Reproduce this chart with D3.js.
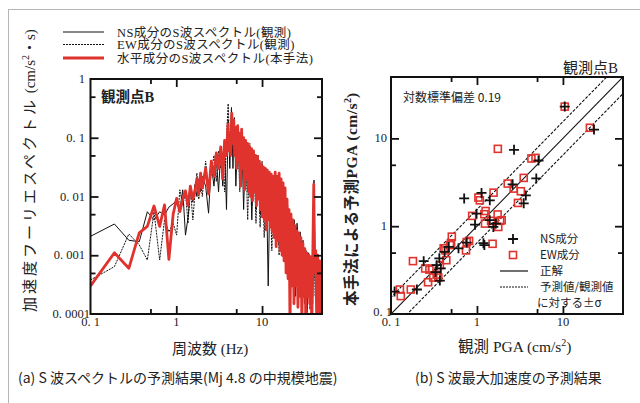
<!DOCTYPE html>
<html>
<head>
<meta charset="utf-8">
<script src="https://cdn.jsdelivr.net/npm/d3@7"></script>
<style>
  body { margin: 0; background: #fff; }
  svg text { font-family: "Liberation Serif", "Noto Sans CJK JP", serif; fill: #222; }
  svg text.sans { font-family: "Noto Sans CJK JP", sans-serif; }
</style>
</head>
<body>
<svg id="chart" width="640" height="403"></svg>
<script>
// --- spectrum data (a) : frequency in Hz, acceleration Fourier spectrum in cm/s^2*s
const freq = [
  0.1, 0.19, 0.28, 0.37, 0.46, 0.55, 0.64, 0.73, 0.82, 0.92,
  1.01, 1.1, 1.19, 1.28, 1.37, 1.46, 1.56, 1.65, 1.74, 1.83,
  1.92, 2.01, 2.2, 2.38, 2.56, 2.75, 2.93, 3.11, 3.3, 3.48,
  3.66, 3.85, 4.03, 4.21, 4.4, 4.58, 4.76, 4.95, 5.2, 5.5,
  5.8, 6.1, 6.4, 6.8, 7.2, 7.6, 8.0, 8.5, 9.0, 9.5,
  10, 10.6, 11.2, 11.8, 12.4, 13, 13.7, 14.4, 15.1, 15.8,
  16.6, 17.4, 18.2, 19, 19.9, 20.8, 21.7, 22.6, 23.6, 24.6,
  25.6, 26.7, 27.8, 28.9, 30, 31.2, 32.4, 33.6, 34.9, 36.2,
  37.5, 38.9, 40.3, 41.7, 43.2, 44.7, 46.2, 47.8, 49.4
];
const nsSpec = [
  0.0021, 0.0034, 0.0018, 0.0017, 0.0055, 0.004, 0.0055, 0.0048, 0.0066, 0.0075,
  0.0087, 0.006, 0.013, 0.0022, 0.0043, 0.012, 0.008, 0.016, 0.01, 0.02,
  0.012, 0.022, 0.015, 0.0052, 0.035, 0.015, 0.045, 0.012, 0.06, 0.015,
  0.07, 0.006, 0.2, 0.03, 0.3, 0.03, 0.22, 0.015, 0.12, 0.02,
  0.1, 0.006, 0.07, 0.012, 0.06, 0.004, 0.05, 0.006, 0.04, 0.005,
  0.035, 0.004, 0.025, 0.0003, 0.02, 0.003, 0.022, 0.002, 0.02, 0.0015,
  0.016, 0.001, 0.012, 0.0006, 0.006, 0.0004, 0.005, 0.0005, 0.004, 0.0002,
  0.0035, 0.0003, 0.0025, 0.0002, 0.0018, 0.00015, 0.0012, 0.00012, 0.0011, 0.0003,
  0.0008, 0.00015, 0.019, 0.0004, 0.0009, 0.0001, 0.0006, 0.00008, 0.0004
];
const ewSpec = [
  0.00038, 0.00064, 0.0023, 0.0015, 0.00083, 0.0055, 0.00083, 0.004, 0.0025, 0.0035,
  0.0022, 0.013, 0.007, 0.012, 0.0035, 0.014, 0.004, 0.011, 0.025, 0.009,
  0.02, 0.01, 0.04, 0.012, 0.025, 0.05, 0.018, 0.06, 0.03, 0.05,
  0.012, 0.1, 0.38, 0.05, 0.33, 0.06, 0.15, 0.03, 0.14, 0.012,
  0.11, 0.02, 0.09, 0.004, 0.08, 0.007, 0.06, 0.0035, 0.05, 0.003,
  0.04, 0.002, 0.03, 0.004, 0.025, 0.0012, 0.02, 0.0015, 0.018, 0.001,
  0.014, 0.0012, 0.01, 0.0005, 0.007, 0.0004, 0.005, 0.0003, 0.004, 0.0003,
  0.003, 0.0002, 0.0022, 0.00015, 0.0016, 0.0002, 0.0012, 0.0001, 0.0009, 0.00012,
  0.0007, 0.0002, 0.0011, 0.0002, 0.0008, 0.0001, 0.0005, 0.00009, 0.0004
];
// predicted spectrum is plotted on a finer grid above 4 Hz
const predFreq = [
  0.1, 0.19, 0.28, 0.37, 0.46, 0.55, 0.64, 0.73, 0.82, 0.92,
  1.01, 1.1, 1.19, 1.28, 1.37, 1.46, 1.56, 1.65, 1.74, 1.83,
  1.92, 2.01, 2.2, 2.38, 2.56, 2.75, 2.93, 3.11, 3.3, 3.48,
  3.66, 3.85,
  4.0, 4.1, 4.2, 4.32, 4.44, 4.56, 4.68, 4.8, 4.93, 5.06,
  5.2, 5.34, 5.48, 5.63, 5.78, 5.94, 6.1, 6.26, 6.43, 6.6,
  6.78, 6.96, 7.15, 7.34, 7.54, 7.74, 7.95, 8.16, 8.38, 8.6,
  8.83, 9.07, 9.31, 9.56, 9.82, 10.08, 10.35, 10.63, 10.92, 11.21,
  11.51, 11.82, 12.14, 12.47, 12.8, 13.15, 13.5, 13.86, 14.23, 14.61,
  15.0, 15.4, 15.82, 16.24, 16.68, 17.13, 17.59, 18.06, 18.55, 19.05,
  19.56, 20.09, 20.63, 21.18, 21.75, 22.34, 22.94, 23.56, 24.19, 24.84,
  25.51, 26.2, 26.9, 27.63, 28.37, 29.13, 29.92, 30.72, 31.55, 32.4,
  33.27, 34.17, 35.09, 36.03, 37.0, 38.0, 39.02, 40.07, 41.15, 42.26,
  43.4, 44.57, 45.77, 47.0, 48.27, 49.5
];
const predSpec = [
  0.0003, 0.0011, 0.0006, 0.0024, 0.0031, 0.0069, 0.0031, 0.0072, 0.00085, 0.005,
  0.0093, 0.0055, 0.009, 0.0125, 0.007, 0.015, 0.009, 0.012, 0.02, 0.011,
  0.025, 0.014, 0.03, 0.011, 0.04, 0.022, 0.055, 0.03, 0.07, 0.02,
  0.09, 0.05,
  0.17, 0.06, 0.12, 0.05, 0.26, 0.08, 0.2, 0.05, 0.15, 0.03,
  0.16, 0.04, 0.12, 0.015, 0.14, 0.03, 0.1, 0.013, 0.09, 0.02,
  0.08, 0.012, 0.07, 0.01, 0.065, 0.0085, 0.06, 0.012, 0.05, 0.007,
  0.048, 0.009, 0.04, 0.006, 0.035, 0.0045, 0.032, 0.004, 0.03, 0.0027,
  0.028, 0.004, 0.026, 0.003, 0.024, 0.0025, 0.022, 0.002, 0.026, 0.0014,
  0.022, 0.0018, 0.025, 0.0012, 0.02, 0.001, 0.017, 0.0008, 0.014, 0.0005,
  0.009, 0.0004, 0.006, 0.00006, 0.005, 0.0003, 0.004, 0.00015, 0.0032, 0.0003,
  0.0026, 0.00013, 0.0024, 0.0002, 0.002, 0.00007, 0.0016, 0.0002, 0.0013, 0.00006,
  0.0011, 0.0002, 0.001, 0.00015, 0.00095, 0.00006, 0.0009, 0.016, 0.0005, 0.0012,
  0.00007, 0.001, 0.00006, 0.0008, 0.00005, 0.0005
];

// --- PGA data (b) : observed vs predicted, cm/s^2
const ewObs  = [10.5, 20.6, 1.75, 4.3, 4.8, 3.5, 2.28, 2.67, 3.24, 3.0, 1.04, 1.08, 1.56, 0.88, 1.26,
                1.22, 1.74, 1.24, 1.46, 1.86, 1.94, 1.77, 1.52, 0.76, 0.81, 0.745, 0.51, 0.485, 0.50, 0.41,
                0.43, 0.44, 0.37, 0.28, 0.30, 0.25, 0.18, 0.34, 0.355, 0.31, 0.27, 0.17, 0.127, 0.13];
const ewPred = [23, 13.2, 7.6, 5.9, 6.0, 3.55, 3.06, 2.68, 2.5, 1.84, 2.12, 1.97, 2.41, 1.31, 1.49,
                1.37, 1.36, 1.07, 1.15, 1.15, 1.17, 0.98, 0.63, 0.66, 0.68, 0.53, 0.76, 0.61, 0.64, 0.56,
                0.53, 0.41, 0.36, 0.32, 0.33, 0.33, 0.40, 0.28, 0.26, 0.26, 0.23, 0.19, 0.19, 0.16];
const nsObs  = [10.5, 23, 2.7, 5.2, 4.9, 2.6, 3.7, 3.5, 0.71, 1.13, 1.41, 0.99, 0.95, 1.41, 1.66,
                1.55, 1.22, 1.19, 0.76, 0.61, 0.47, 0.42, 0.365, 0.34, 0.24, 0.37, 0.33, 0.20, 0.11, 0.38];
const nsPred = [23, 12.6, 7.4, 5.6, 3.5, 3.0, 2.24, 1.82, 2.07, 2.39, 1.97, 1.39, 1.04, 1.17, 1.07,
                0.98, 0.61, 0.64, 0.65, 0.56, 0.58, 0.51, 0.43, 0.36, 0.40, 0.24, 0.30, 0.19, 0.18, 0.33];
const logSigma = 0.19;

// tick labels
const specYTicks = [1, 0.1, 0.01, 0.001, 0.0001];
const specYLabels = ["1", "0. 1", "0. 01", "0. 001", "0. 0001"];
const specXTicks = [0.1, 1, 10];
const pgaTicks = [0.1, 1, 10];
const tickLabels = ["0. 1", "1", "10"];

const svg = d3.select("#chart");

// outer grey frame (runs off the right and bottom edge)
svg.append("rect").attr("x", 8.5).attr("y", 9.5).attr("width", 700).attr("height", 500)
  .attr("fill", "none").attr("stroke", "#b5b5b5").attr("stroke-width", 1);

// draw a box with inward ticks on all four sides
function frame(x, y, xMaj, xMin, yMaj, yMin) {
  const g = svg.append("g");
  const [x0, x1] = x.range(), [y0, y1] = y.range();
  const ax = [
    [d3.axisBottom(x), `translate(0,${y0})`, xMaj, -8], [d3.axisBottom(x), `translate(0,${y0})`, xMin, -5],
    [d3.axisTop(x), `translate(0,${y1})`, xMaj, -8], [d3.axisTop(x), `translate(0,${y1})`, xMin, -5],
    [d3.axisLeft(y), `translate(${x0},0)`, yMaj, -8], [d3.axisLeft(y), `translate(${x0},0)`, yMin, -5],
    [d3.axisRight(y), `translate(${x1},0)`, yMaj, -8], [d3.axisRight(y), `translate(${x1},0)`, yMin, -5]
  ];
  ax.forEach(([a, t, vals, size]) => {
    g.append("g").attr("transform", t)
      .call(a.tickValues(vals).tickSizeInner(size).tickSizeOuter(0).tickFormat(""))
      .call(s => s.select(".domain").remove())
      .selectAll("line").attr("stroke", "#111").attr("stroke-width", 1.8);
  });
  g.append("rect").attr("x", x0).attr("y", y1).attr("width", x1 - x0).attr("height", y0 - y1)
    .attr("fill", "none").attr("stroke", "#111").attr("stroke-width", 2);
  return g;
}

// ================= (a) spectrum =================
const xs = d3.scaleLog().domain([0.1, 50]).range([90.5, 322]);
const ys = d3.scaleLog().domain([0.0001, 1]).range([314, 79]);

svg.append("clipPath").attr("id", "clipA").append("rect")
  .attr("x", 90.5).attr("y", 79).attr("width", 231.5).attr("height", 235);

const specLine = (f, vals) => d3.line()
  .x((d, i) => xs(f[i]))
  .y(d => ys(d))(vals);

const plotA = svg.append("g").attr("clip-path", "url(#clipA)");
plotA.append("path").attr("d", specLine(freq, nsSpec)).attr("fill", "none")
  .attr("stroke", "#111").attr("stroke-width", 1);
plotA.append("path").attr("d", specLine(freq, ewSpec)).attr("fill", "none")
  .attr("stroke", "#111").attr("stroke-width", 1).attr("stroke-dasharray", "2,1");
plotA.append("path").attr("d", specLine(predFreq, predSpec)).attr("fill", "none")
  .attr("stroke", "#e0332d").attr("stroke-width", 2.8).attr("stroke-linejoin", "round");

frame(xs, ys, [1, 10], [0.5, 5], [0.001, 0.01, 0.1], [0.0005, 0.005, 0.05, 0.5]);

svg.append("g").selectAll("text").data(specYTicks).join("text")
  .attr("x", (d, i) => i === 4 ? 90 : 85).attr("y", d => ys(d) + 4)
  .attr("text-anchor", "end").attr("font-size", 12.5)
  .text((d, i) => specYLabels[i]);
svg.append("g").selectAll("text").data(specXTicks).join("text")
  .attr("x", d => xs(d)).attr("y", 326).attr("text-anchor", "middle").attr("font-size", 12.5)
  .text((d, i) => tickLabels[i]);

svg.append("text").attr("x", 101).attr("y", 102).attr("font-size", 14.5).attr("font-weight", "bold")
  .text("観測点B");

const yLabA = svg.append("text").attr("transform", "translate(35,312) rotate(-90)")
  .attr("font-size", 15);
yLabA.append("tspan").attr("letter-spacing", 3).text("加速度フーリエスペクトル");
yLabA.append("tspan").text(" (cm/s");
yLabA.append("tspan").attr("dy", -6).attr("font-size", 10).text("2");
yLabA.append("tspan").attr("dy", 6).text("・s)");

svg.append("text").attr("x", 172).attr("y", 354).attr("font-size", 15).text("周波数 (Hz)");

// legend (a)
const legA = [
  { label: "NS成分のS波スペクトル(観測)", color: "#111", w: 1.2, dash: null, y: 32 },
  { label: "EW成分のS波スペクトル(観測)", color: "#111", w: 1.2, dash: "2,1", y: 44.5 },
  { label: "水平成分のS波スペクトル(本手法)", color: "#e0332d", w: 3, dash: null, y: 58 }
];
const lg = svg.append("g").selectAll("g").data(legA).join("g");
lg.append("line").attr("x1", 63).attr("x2", 104).attr("y1", d => d.y).attr("y2", d => d.y)
  .attr("stroke", d => d.color).attr("stroke-width", d => d.w).attr("stroke-dasharray", d => d.dash);
lg.append("text").attr("x", 117).attr("y", d => d.y + 4.5).attr("font-size", 12.5)
  .attr("letter-spacing", 0.4).text(d => d.label);

// ================= (b) PGA =================
const xp = d3.scaleLog().domain([0.1, 50]).range([391, 623]);
const yp = d3.scaleLog().domain([0.1, 50]).range([314, 77]);

svg.append("clipPath").attr("id", "clipB").append("rect")
  .attr("x", 391).attr("y", 77).attr("width", 232).attr("height", 237);

const fac = Math.pow(10, logSigma);
const refLines = [
  { k: 1, dash: null },
  { k: fac, dash: "3,1.5" },
  { k: 1 / fac, dash: "3,1.5" }
];
const plotB = svg.append("g").attr("clip-path", "url(#clipB)");
plotB.selectAll("line").data(refLines).join("line")
  .attr("x1", xp(0.05)).attr("y1", d => yp(0.05 * d.k))
  .attr("x2", xp(100)).attr("y2", d => yp(100 * d.k))
  .attr("stroke", "#111").attr("stroke-width", 1.1).attr("stroke-dasharray", d => d.dash);

const ew = ewObs.map((o, i) => [o, ewPred[i]]);
const ns = nsObs.map((o, i) => [o, nsPred[i]]);
plotB.selectAll("rect.ew").data(ew).join("rect").attr("class", "ew")
  .attr("x", d => xp(d[0]) - 3.5).attr("y", d => yp(d[1]) - 3.5)
  .attr("width", 7).attr("height", 7)
  .attr("fill", "none").attr("stroke", "#e0332d").attr("stroke-width", 1.6);
plotB.selectAll("path.ns").data(ns).join("path").attr("class", "ns")
  .attr("transform", d => `translate(${xp(d[0])},${yp(d[1])})`)
  .attr("d", "M-5,0H5M0,-5V5").attr("stroke", "#111").attr("stroke-width", 1.8);

frame(xp, yp, [1, 10], [0.5, 5], [1, 10], [0.5, 5]);

svg.append("g").selectAll("text").data(pgaTicks).join("text")
  .attr("x", d => d === 0.1 ? 392 : 387).attr("y", d => d === 0.1 ? yp(d) + 2 : yp(d) + 4)
  .attr("text-anchor", "end").attr("font-size", 12.5)
  .text((d, i) => tickLabels[i]);
svg.append("g").selectAll("text").data(pgaTicks).join("text")
  .attr("x", d => xp(d)).attr("y", 326).attr("text-anchor", "middle").attr("font-size", 12.5)
  .text((d, i) => tickLabels[i]);

svg.append("text").attr("x", 618).attr("y", 73).attr("text-anchor", "end").attr("font-size", 15)
  .text("観測点B");
svg.append("text").attr("class", "sans").attr("x", 403).attr("y", 102).attr("font-size", 12)
  .text("対数標準偏差 0.19");

const yLabB = svg.append("text").attr("transform", "translate(357,306) rotate(-90)")
  .attr("font-size", 15.5).attr("font-weight", "bold");
yLabB.append("tspan").attr("letter-spacing", 0.5).text("本手法による予測PGA (cm/s");
yLabB.append("tspan").attr("dy", -6).attr("font-size", 10).text("2");
yLabB.append("tspan").attr("dy", 6).text(")");

const xLabB = svg.append("text").attr("x", 458).attr("y", 352).attr("font-size", 15.5);
xLabB.append("tspan").text("観測 PGA (cm/s");
xLabB.append("tspan").attr("dy", -6).attr("font-size", 10).text("2");
xLabB.append("tspan").attr("dy", 6).text(")");

// legend (b)
const legB = svg.append("g");
legB.append("path").attr("transform", "translate(513,239)").attr("d", "M-5,0H5M0,-5V5")
  .attr("stroke", "#111").attr("stroke-width", 1.8);
legB.append("rect").attr("x", 509.5).attr("y", 251.5).attr("width", 7).attr("height", 7)
  .attr("fill", "none").attr("stroke", "#e0332d").attr("stroke-width", 1.6);
legB.append("line").attr("x1", 500).attr("x2", 528).attr("y1", 271).attr("y2", 271)
  .attr("stroke", "#111").attr("stroke-width", 1.2);
legB.append("line").attr("x1", 500).attr("x2", 528).attr("y1", 287).attr("y2", 287)
  .attr("stroke", "#111").attr("stroke-width", 1).attr("stroke-dasharray", "2,1");
const legBText = [["NS成分", 540, 243], ["EW成分", 540, 259], ["正解", 540, 275],
                  ["予測値/観測値", 540, 291], ["に対する±σ", 537, 307]];
legB.selectAll("text").data(legBText).join("text").attr("class", "sans")
  .attr("x", d => d[1]).attr("y", d => d[2]).attr("font-size", 11.5).text(d => d[0]);

// captions
svg.append("text").attr("class", "sans").attr("x", 18).attr("y", 383).attr("font-size", 14)
  .text("(a) S 波スペクトルの予測結果(Mj 4.8 の中規模地震)");
svg.append("text").attr("class", "sans").attr("x", 415).attr("y", 383).attr("font-size", 14)
  .text("(b) S 波最大加速度の予測結果");
</script>
</body>
</html>
